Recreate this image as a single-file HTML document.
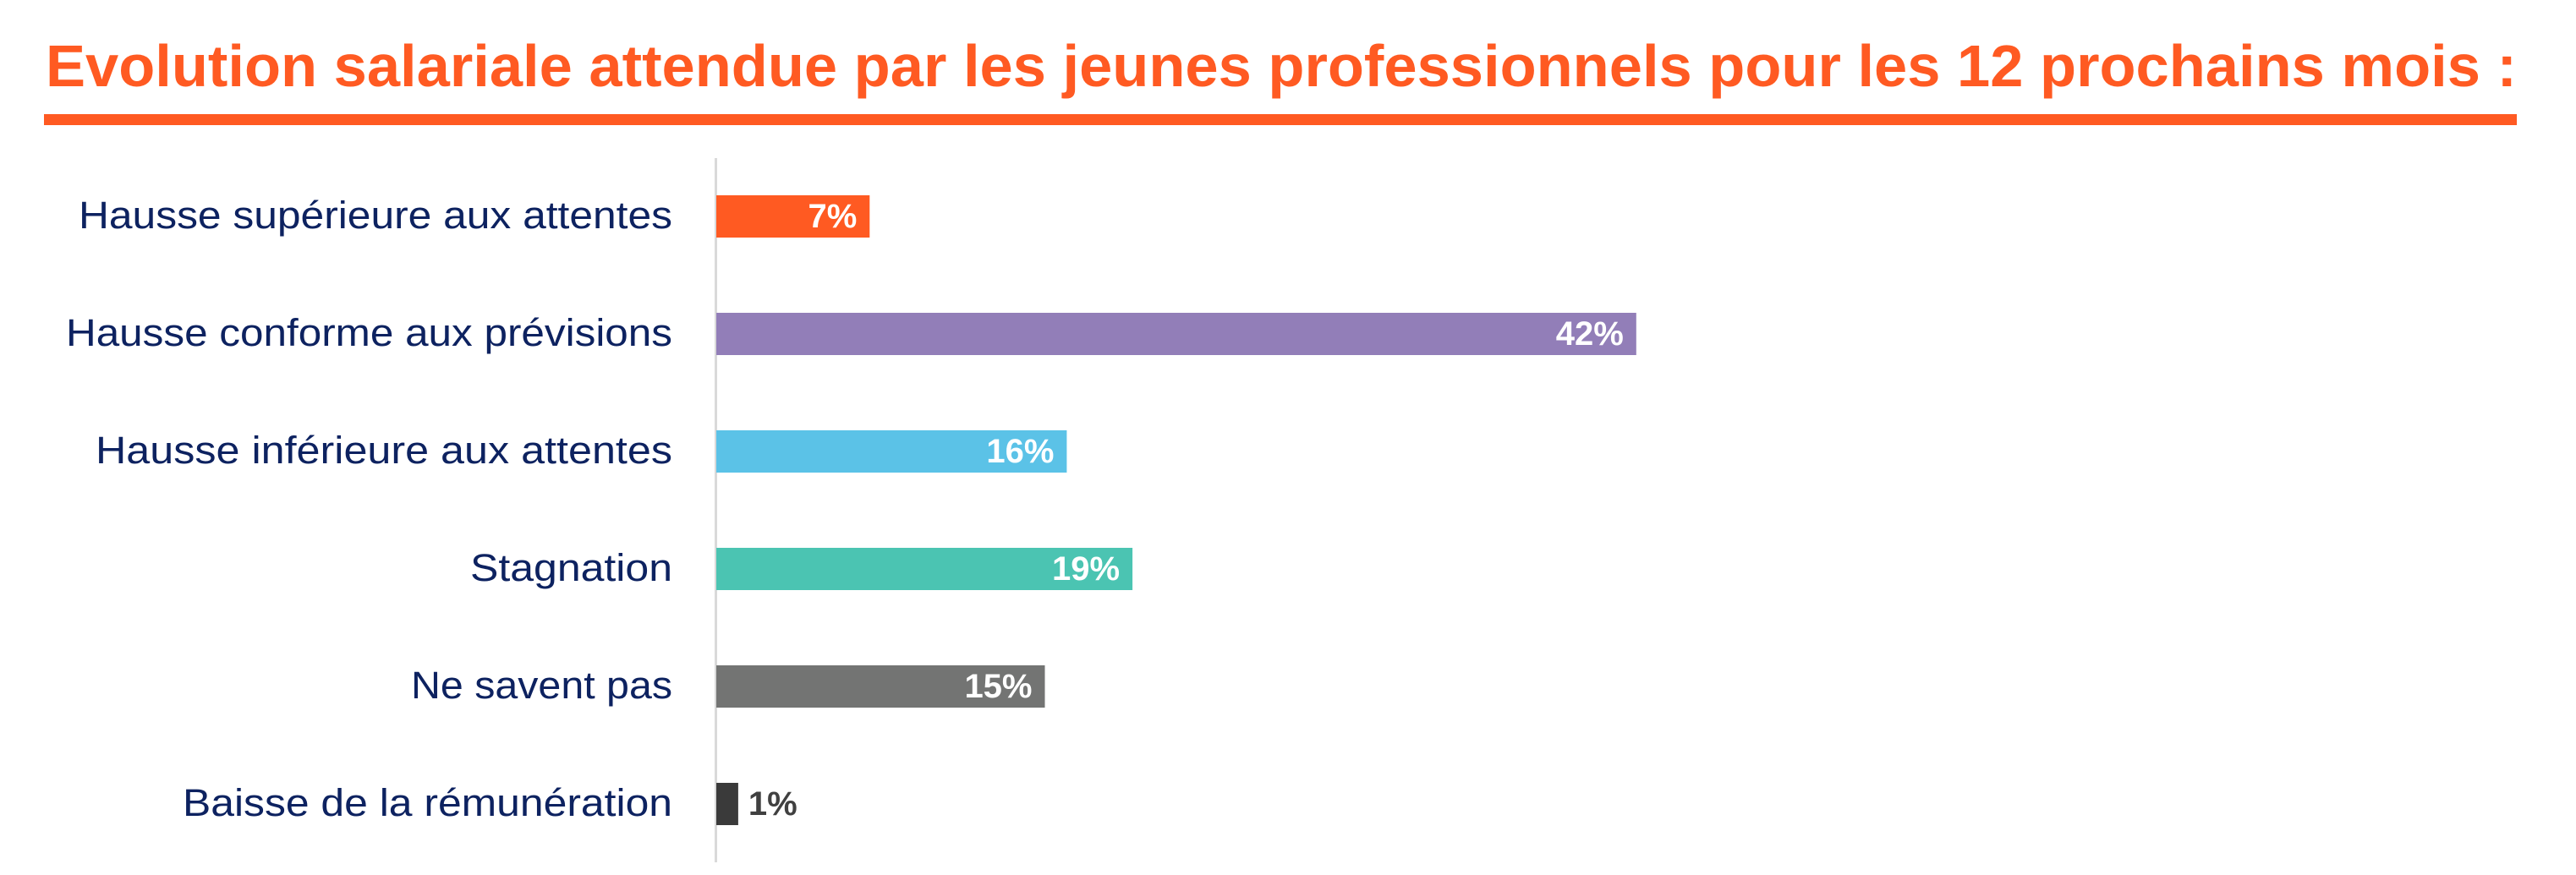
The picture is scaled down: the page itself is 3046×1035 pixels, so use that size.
<!DOCTYPE html>
<html><head><meta charset="utf-8"><style>
html,body{margin:0;padding:0;background:#fff;}
svg{display:block;font-family:"Liberation Sans",sans-serif;}
</style></head><body>
<svg id="chart" width="3046" height="1035" viewBox="0 0 3046 1035" xmlns="http://www.w3.org/2000/svg">
<text x="54" y="102" font-size="70" font-weight="bold" fill="#FF5A22" textLength="2922" lengthAdjust="spacingAndGlyphs">Evolution salariale attendue par les jeunes professionnels pour les 12 prochains mois :</text>
<rect x="52" y="135" width="2924" height="13" fill="#FF5A22"/>
<rect x="845" y="187" width="3" height="833" fill="#D9D9D9"/>
<g id="bars"></g>
</svg>
<script>
const categories=["Hausse supérieure aux attentes","Hausse conforme aux prévisions","Hausse inférieure aux attentes","Stagnation","Ne savent pas","Baisse de la rémunération"];
const values=[7,42,16,19,15,1];
const valueLabels=["7%","42%","16%","19%","15%","1%"];
const colors=["#FF5A22","#927EB8","#5BC2E7","#4BC4B2","#737473","#3A3A3A"];
const labelWidths=[702,717,682,239,309,579];
const x0=847, pxPerPct=25.9, y0=231, step=139, barH=50;
const xs=v=>x0+v*pxPerPct;
const ys=i=>y0+i*step;
const g=document.getElementById('bars');
const NS="http://www.w3.org/2000/svg";
categories.forEach((c,i)=>{
  const y=ys(i), w=xs(values[i])-x0;
  const r=document.createElementNS(NS,'rect');
  
  
  r.setAttribute('x',x0);r.setAttribute('y',y);r.setAttribute('width',w);r.setAttribute('height',barH);r.setAttribute('fill',colors[i]);
  g.appendChild(r);
  const t=document.createElementNS(NS,'text');
  
  
  t.setAttribute('x',795);t.setAttribute('y',y+39);t.setAttribute('text-anchor','end');
  t.setAttribute('font-size','45');t.setAttribute('fill','#0D2260');
  t.setAttribute('textLength',labelWidths[i]);t.setAttribute('lengthAdjust','spacingAndGlyphs');
  t.textContent=c;g.appendChild(t);
  const v=document.createElementNS(NS,'text');
  
  
  v.setAttribute('font-size','40');v.setAttribute('font-weight','bold');
  v.setAttribute('y',y+38);
  if(values[i]>=3){v.setAttribute('x',xs(values[i])-15);v.setAttribute('text-anchor','end');v.setAttribute('fill','#fff');}
  else{v.setAttribute('x',xs(values[i])+12);v.setAttribute('fill','#404040');}
  v.textContent=valueLabels[i];g.appendChild(v);
});
</script>
</body></html>
